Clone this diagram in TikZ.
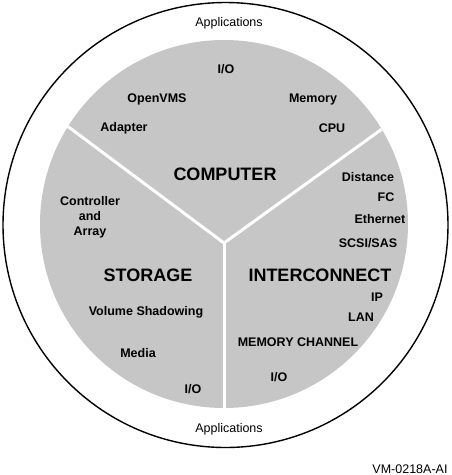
\documentclass[tikz,border=0pt]{standalone}
\usepackage{fontspec}
\setmainfont{Liberation Sans}
\usetikzlibrary{calc}
\definecolor{disc_gray}{RGB}{198,198,198}
\tikzstyle{lbl}=[font=\bfseries\fontsize{12.5}{15}\selectfont,inner sep=0pt,align=center]
\tikzstyle{part}=[font=\bfseries\fontsize{18}{20}\selectfont,inner sep=0pt]
\tikzstyle{app}=[font=\fontsize{12.5}{14}\selectfont,inner sep=0pt]
\tikzstyle{divider}=[draw=white,line width=3pt]
\begin{document}
\begin{tikzpicture}[x=1pt,y=-1pt]
        \useasboundingbox (0,0) rectangle (451,475);
        \draw[line width=1.4pt] (225.5,225) circle (222.5);
        \fill[disc_gray] (224,224) circle (184);
        \coordinate (hub) at (224,243);
        \coordinate (cl) at ($(224,224)+(-148:184)$);
        \coordinate (cr) at ($(224,224)+(-31:184)$);
        \coordinate (cb) at (224,409);
        \draw[divider] (hub) -- (cl);
        \draw[divider] (hub) -- (cr);
        \draw[divider] (hub) -- (cb);
        \node [style=app] (apptop) at (229,23) {Applications};
        \node [style=app] (appbot) at (229,429) {Applications};
        \node [style=part] (comp) at (225,174) {COMPUTER};
        \node [style=part] (stor) at (148,275) {STORAGE};
        \node [style=part] (inter) at (320,275) {INTERCONNECT};
        \node [style=lbl] (cio) at (226,69) {I/O};
        \node [style=lbl] (os) at (157,99) {OpenVMS};
        \node [style=lbl] (mem) at (313,99) {Memory};
        \node [style=lbl] (adap) at (124,128) {Adapter};
        \node [style=lbl] (cpu) at (332,128) {CPU};
        \node [style=lbl] (dist) at (368,177) {Distance};
        \node [style=lbl] (fc) at (386,197) {FC};
        \node [style=lbl] (eth) at (380,219) {Ethernet};
        \node [style=lbl] (scsi) at (368,243) {SCSI/SAS};
        \node [style=lbl] (ctrl) at (90,217) {Controller\\and\\Array};
        \node [style=lbl] (ip) at (377,297) {IP};
        \node [style=lbl] (lan) at (361,317) {LAN};
        \node [style=lbl] (vol) at (146,312) {Volume Shadowing};
        \node [style=lbl] (mc) at (298,342) {MEMORY CHANNEL};
        \node [style=lbl] (media) at (138,353) {Media};
        \node [style=lbl] (iio) at (279,377) {I/O};
        \node [style=lbl] (sio) at (193,389) {I/O};
        \node [style=app] (tag) at (410,469) {VM-0218A-AI};
    \end{tikzpicture}
\end{document}
